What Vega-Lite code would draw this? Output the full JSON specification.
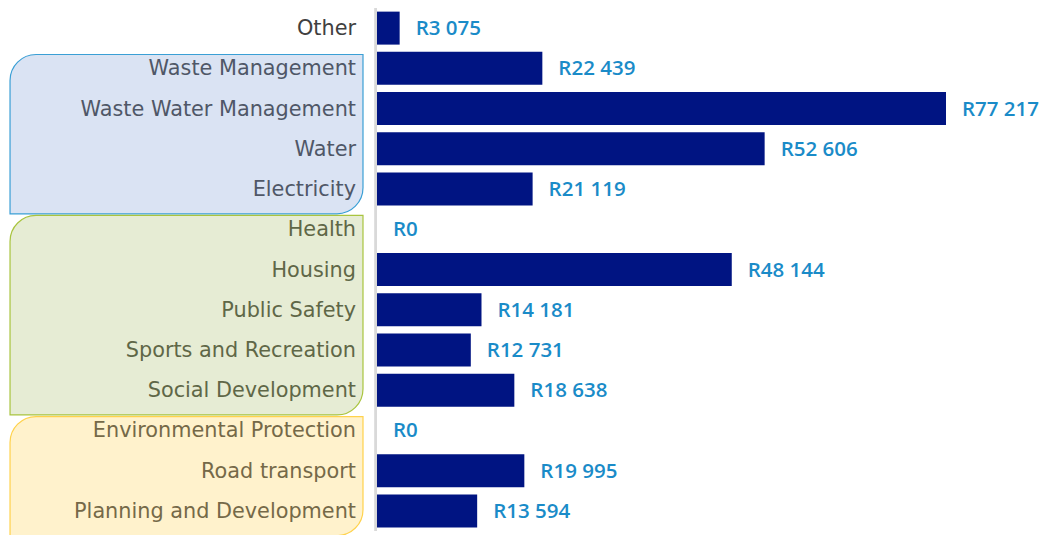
{
  "$schema": "https://vega.github.io/schema/vega-lite/v6.json",
  "width": 1043,
  "height": 523,
  "padding": {"left": 0, "right": 0, "top": 8, "bottom": 4},
  "autosize": {"type": "none"},
  "background": "white",
  "config": {"view": {"stroke": null}},
  "datasets": {
    "rows": [
      {"category": "Other", "value": 3075, "label": "R3 075", "group": "other"},
      {"category": "Waste Management", "value": 22439, "label": "R22 439", "group": "infra"},
      {"category": "Waste Water Management", "value": 77217, "label": "R77 217", "group": "infra"},
      {"category": "Water", "value": 52606, "label": "R52 606", "group": "infra"},
      {"category": "Electricity", "value": 21119, "label": "R21 119", "group": "infra"},
      {"category": "Health", "value": 0, "label": "R0", "group": "social"},
      {"category": "Housing", "value": 48144, "label": "R48 144", "group": "social"},
      {"category": "Public Safety", "value": 14181, "label": "R14 181", "group": "social"},
      {"category": "Sports and Recreation", "value": 12731, "label": "R12 731", "group": "social"},
      {"category": "Social Development", "value": 18638, "label": "R18 638", "group": "social"},
      {"category": "Environmental Protection", "value": 0, "label": "R0", "group": "econ"},
      {"category": "Road transport", "value": 19995, "label": "R19 995", "group": "econ"},
      {"category": "Planning and Development", "value": 13594, "label": "R13 594", "group": "econ"}
    ],
    "groups": [
      {"group": "infra", "first": "Waste Management", "last": "Electricity"},
      {"group": "social", "first": "Health", "last": "Social Development"},
      {"group": "econ", "first": "Environmental Protection", "last": "Planning and Development"}
    ]
  },
  "encoding": {
    "y": {
      "field": "category",
      "type": "nominal",
      "axis": null,
      "scale": {
        "domain": ["Other", "Waste Management", "Waste Water Management", "Water", "Electricity", "Health", "Housing", "Public Safety", "Sports and Recreation", "Social Development", "Environmental Protection", "Road transport", "Planning and Development"],
        "paddingInner": 0.18,
        "paddingOuter": 0.09
      }
    }
  },
  "layer": [
    {
      "data": {"name": "groups"},
      "mark": {"type": "rect", "cornerRadiusTopLeft": 26, "cornerRadiusBottomRight": 26, "strokeWidth": 1.2},
      "encoding": {
        "y": {"field": "first", "type": "nominal", "bandPosition": 0.08, "axis": null},
        "y2": {"field": "last", "bandPosition": 1.25},
        "x": {"datum": -49800, "type": "quantitative", "scale": {"domain": [-51161, 90381], "nice": false, "zero": false}, "axis": null},
        "x2": {"datum": -1900},
        "fill": {"field": "group", "type": "nominal", "legend": null, "scale": {"domain": ["infra", "social", "econ"], "range": ["#dae3f3", "#e6ecd4", "#fff2cc"]}},
        "stroke": {"field": "group", "type": "nominal", "legend": null, "scale": {"domain": ["infra", "social", "econ"], "range": ["#3a9fd5", "#a9c43f", "#ffd24c"]}}
      }
    },
    {
      "data": {"name": "rows"},
      "mark": {"type": "rule", "color": "#d9d9d9", "strokeWidth": 2},
      "encoding": {
        "x": {"datum": -150, "type": "quantitative"},
        "y": null
      }
    },
    {
      "data": {"name": "rows"},
      "mark": {"type": "bar", "color": "#001482", "cornerRadius": 0},
      "encoding": {
        "x": {"field": "value", "type": "quantitative"},
        "x2": {"datum": 0}
      }
    },
    {
      "data": {"name": "rows"},
      "mark": {"type": "text", "align": "right", "baseline": "middle", "dy": 1, "font": "DejaVu Sans", "fontSize": 20.8},
      "encoding": {
        "x": {"datum": -2850, "type": "quantitative"},
        "text": {"field": "category"},
        "color": {"field": "group", "type": "nominal", "legend": null, "scale": {"domain": ["other", "infra", "social", "econ"], "range": ["#404040", "#4f5767", "#5f6747", "#756948"]}}
      }
    },
    {
      "data": {"name": "rows"},
      "mark": {"type": "text", "align": "left", "baseline": "middle", "dx": 16, "dy": 1, "font": "Open Sans", "fontWeight": 600, "fontSize": 20.5, "color": "#1a8bc8"},
      "encoding": {
        "x": {"field": "value", "type": "quantitative"},
        "text": {"field": "label"}
      }
    }
  ]
}
